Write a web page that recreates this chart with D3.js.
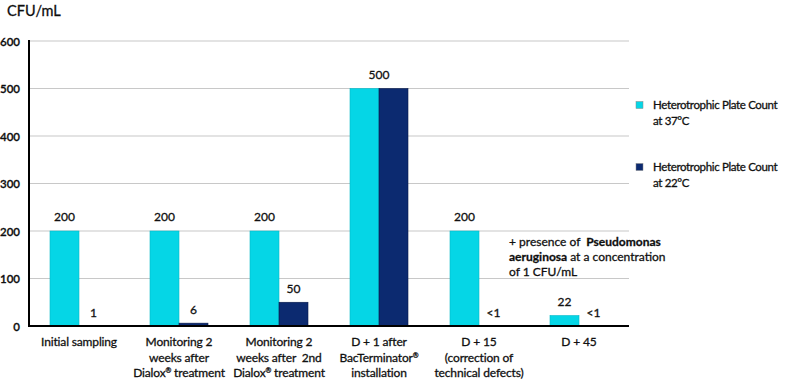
<!DOCTYPE html>
<html><head><meta charset="utf-8">
<script src="https://cdn.jsdelivr.net/npm/d3@7"></script>
<style>
body{margin:0;background:#fff;}
text{font-family:Lato, "Open Sans", sans-serif;fill:#0a0a0a;white-space:pre;stroke:#1a1a1a;stroke-width:0.3px;}
</style></head>
<body><svg id="c" width="787" height="381"></svg>
<script>
const categories = [
  ["Initial sampling"],
  ["Monitoring 2","weeks after","Dialox\u00ae treatment"],
  ["Monitoring 2","weeks after  2nd","Dialox\u00ae treatment"],
  ["D + 1 after","BacTerminator\u00ae","installation"],
  ["D + 15","(correction of","technical defects)"],
  ["D + 45"]
];
const series = ["Heterotrophic Plate Count at 37\u00b0C","Heterotrophic Plate Count at 22\u00b0C"];
const hpc37 = [200,200,200,500,200,22];
const hpc22 = [1,6,50,500,0,0];
const labels37 = ["200","200","200","500","200","22"];
const labels22 = ["1","6","50","","<1","<1"];
const yTicks = [0,100,200,300,400,500,600];
const colors = ["#05d6e6","#0c2a70"];

const svg = d3.select("#c");
const x0 = 29, x1 = 629, yTop = 41, yBot = 326;
const x = d3.scaleBand().domain(d3.range(categories.length)).range([x0,x1]).paddingInner(0.42).paddingOuter(0.21);
const xs = d3.scaleBand().domain([0,1]).range([0,x.bandwidth()]);
const y = d3.scaleLinear().domain([0,600]).range([yBot,yTop]);

// grid
svg.append("g").selectAll("line").data(yTicks.filter(d=>d>0)).join("line")
  .attr("x1",x0).attr("x2",x1).attr("y1",d=>y(d)).attr("y2",d=>y(d))
  .attr("stroke","#c8c8c8").attr("stroke-width",1.2);

// y axis
const ya = d3.axisLeft(y).tickValues(yTicks).tickSize(0).tickPadding(9);
const yg = svg.append("g").attr("transform",`translate(${x0},0)`).call(ya);
yg.select(".domain").remove();
yg.selectAll("text").style("font-size","11.5px").style("font-family","Lato, sans-serif").style("font-weight","600").attr("fill","#111").attr("dy","0.35em");

// bars
const data = categories.map((c,i)=>[hpc37[i],hpc22[i]]);
const g = svg.append("g").selectAll("g").data(data).join("g").attr("transform",(d,i)=>`translate(${x(i)},0)`);
g.selectAll("rect").data(d=>d).join("rect")
  .attr("x",(d,j)=>xs(j)).attr("width",xs.bandwidth())
  .attr("y",d=>y(d)).attr("height",d=>yBot-y(d))
  .attr("fill",(d,j)=>colors[j])
  .attr("stroke",(d,j)=>j?"#071a4a":"#04b8c8").attr("stroke-width",0.6);

// value labels
categories.forEach((c,i)=>{
  const both = hpc37[i]===hpc22[i];
  const cx37 = both ? x(i)+x.bandwidth()/2 : x(i)+xs(0)+xs.bandwidth()/2;
  svg.append("text").attr("x",cx37).attr("y",y(hpc37[i])-10).attr("text-anchor","middle")
    .style("font-size","12px").text(labels37[i]);
  if(labels22[i]){
    svg.append("text").attr("x",x(i)+xs(1)+xs.bandwidth()/2).attr("y",y(hpc22[i])-9).attr("text-anchor","middle")
      .style("font-size","12px").text(labels22[i]);
  }
});

// axes lines
svg.append("line").attr("x1",x0).attr("x2",x0).attr("y1",yTop-1).attr("y2",yBot+1).attr("stroke","#000").attr("stroke-width",2);
svg.append("line").attr("x1",x0-1).attr("x2",x1).attr("y1",yBot).attr("y2",yBot).attr("stroke","#000").attr("stroke-width",2);

// x labels with superscript ®
function addLine(t, cx, str){
  const parts = str.split("\u00ae");
  t.append("tspan").text(parts[0]);
  for(let k=1;k<parts.length;k++){
    t.append("tspan").attr("dy",-4).style("font-size","7px").text("\u00ae");
    t.append("tspan").attr("dy",4).text(parts[k]);
  }
}
categories.forEach((lines,i)=>{
  const cx = x(i)+x.bandwidth()/2;
  lines.forEach((l,k)=>{
    const tt = svg.append("text").attr("x",cx).attr("y",346+k*15.5).attr("text-anchor","middle").style("font-size","12px").style("letter-spacing","-0.15px");
    addLine(tt,cx,l);
  });
});

// unit title
svg.append("text").attr("x",7).attr("y",16).style("font-size","14.5px").text("CFU/mL");

// legend
series.forEach((s,j)=>{
  const ly = [105,167][j];
  svg.append("rect").attr("x",636).attr("y",ly-3.5).attr("width",7).attr("height",7).attr("fill",colors[j]).attr("stroke","#888").attr("stroke-width",0.5);
  const t = svg.append("text").attr("x",653).attr("y",ly+4).style("font-size","11.5px").style("letter-spacing","-0.35px");
  const parts = [s.replace(/ at .*/,""), s.replace(/.* (at .*)/,"$1")];
  parts.forEach((p,k)=>t.append("tspan").attr("x",653).attr("dy",k?16:0).text(p));
});

// annotation
const an = svg.append("text").attr("x",509).attr("y",246).style("font-size","12px");
an.append("tspan").text("+ presence of  ");
an.append("tspan").style("font-weight","bold").text("Pseudomonas");
const an2 = svg.append("text").attr("x",509).attr("y",261).style("font-size","12px");
an2.append("tspan").style("font-weight","bold").text("aeruginosa");
an2.append("tspan").text(" at a concentration");
svg.append("text").attr("x",509).attr("y",276).style("font-size","12px").text("of 1 CFU/mL");
</script></body></html>
